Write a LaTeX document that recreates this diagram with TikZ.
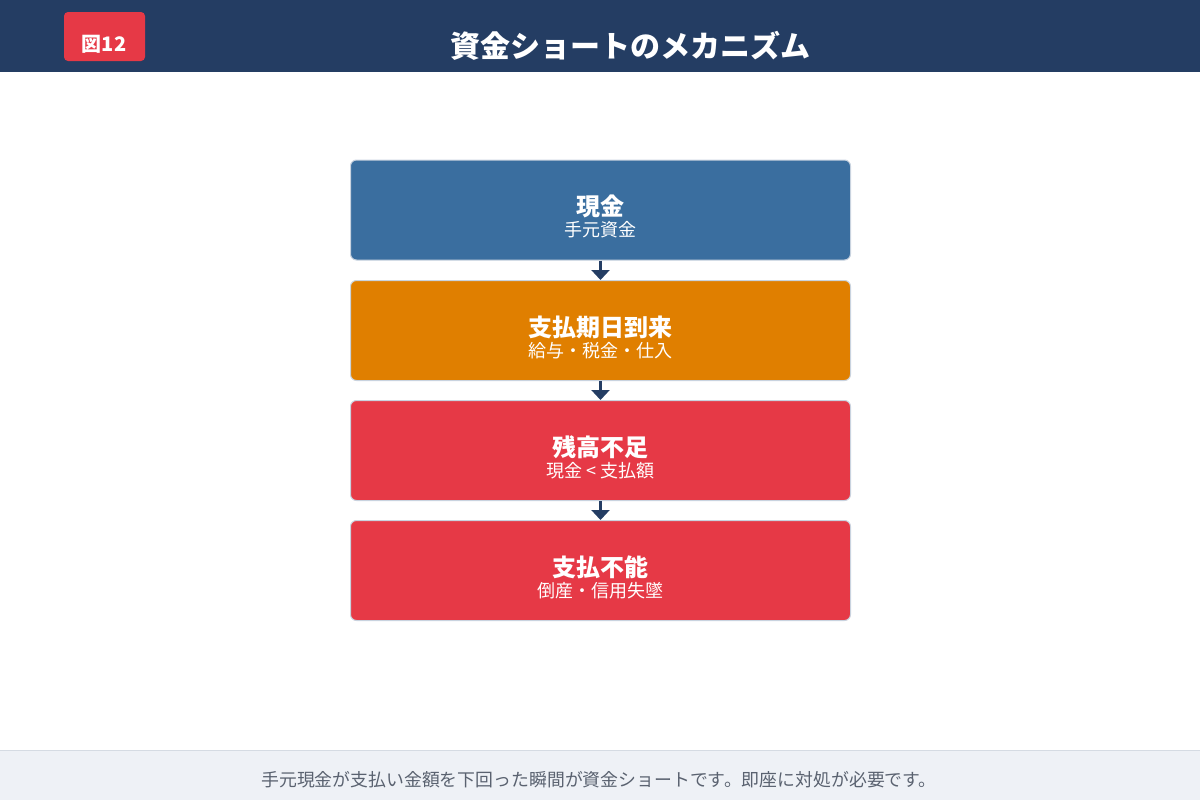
\documentclass[tikz,border=0pt]{standalone}
\usepackage{fontspec}
\setmainfont{Noto Sans CJK JP}
\usetikzlibrary{arrows.meta}
\definecolor{navy}{HTML}{243D63}
\definecolor{cashblue}{HTML}{3A6E9F}
\definecolor{payorange}{HTML}{E07F00}
\definecolor{alertred}{HTML}{E63946}
\definecolor{footbg}{HTML}{EEF1F6}
\definecolor{footline}{HTML}{D5DBE3}
\definecolor{foottext}{HTML}{5A6270}
\definecolor{boxline}{HTML}{C9D3DF}

\begin{document}
\begin{tikzpicture}[x=0.75pt,y=-0.75pt,>={Triangle[length=7.5pt,width=13.5pt]},line width=0.75pt]
\tikzset{stage/.style = {shape=rectangle, draw=boxline, rounded corners=4.5pt, minimum width=375pt, minimum height=75pt, inner sep=0pt}}
\tikzset{stagetext/.style = {text=white, align=center, inner sep=0pt, yshift=-5pt}}
\tikzset{flow/.style = {->, draw=navy, line width=2.6pt}}
\useasboundingbox (0,0) rectangle (1200,800);

%header
\fill[navy] (0,0) rectangle (1200,72);
\node[fill=alertred, rounded corners=3pt, minimum width=60.75pt, minimum height=36.75pt, inner sep=0pt] (badge) at (104.5,36.5) {};
\node[text=white, font=\bfseries\fontsize{15}{18}\selectfont] (badgetxt) at (104,44) {図12};
\node[text=white, font=\bfseries\fontsize{22.5}{26}\selectfont] (title) at (630,45.5) {資金ショートのメカニズム};

%stages
\node[stage, fill=cashblue] (cash) at (600.5,210) {};
\node[stage, fill=payorange] (due) at (600.5,330.5) {};
\node[stage, fill=alertred] (short) at (600.5,450.5) {};
\node[stage, fill=alertred] (fail) at (600.5,570.5) {};

%texts
\node[stagetext] (cashtxt) at (cash.center) {{\bfseries\fontsize{18}{22}\selectfont 現金}\\[1.5pt]{\fontsize{13.5}{16}\selectfont 手元資金}};
\node[stagetext] (duetxt) at (due.center) {{\bfseries\fontsize{18}{22}\selectfont 支払期日到来}\\[1.5pt]{\fontsize{13.5}{16}\selectfont 給与・税金・仕入}};
\node[stagetext] (shorttxt) at (short.center) {{\bfseries\fontsize{18}{22}\selectfont 残高不足}\\[1.5pt]{\fontsize{13.5}{16}\selectfont 現金 < 支払額}};
\node[stagetext] (failtxt) at (fail.center) {{\bfseries\fontsize{18}{22}\selectfont 支払不能}\\[1.5pt]{\fontsize{13.5}{16}\selectfont 倒産・信用失墜}};

%arrows
\draw[flow] (cash) -- (due);
\draw[flow] (due) -- (short);
\draw[flow] (short) -- (fail);

%footer
\fill[footbg] (0,750) rectangle (1200,800);
\draw[footline] (0,750) -- (1200,750);
\node[text=foottext, font=\fontsize{13.4}{16}\selectfont] (note) at (599,779.5) {手元現金が支払い金額を下回った瞬間が資金ショートです。即座に対処が必要です。};

\end{tikzpicture}
\end{document}
